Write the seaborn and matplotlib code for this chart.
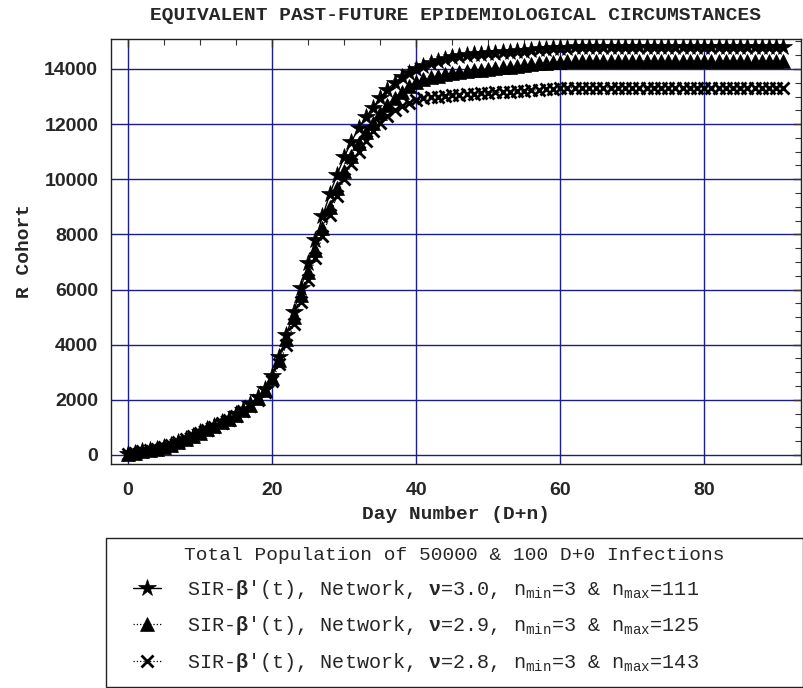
import matplotlib
matplotlib.use("Agg")
import matplotlib.pyplot as plt
from matplotlib.patches import Rectangle
from matplotlib.ticker import MultipleLocator
import seaborn as sns
import numpy as np

# day numbers D+0 .. D+91
days = list(range(92))

# R cohort, nu=3.0 (stars)
r_nu30 = [30, 80, 130, 180, 230, 290, 380, 480, 590, 700,
          820, 940, 1060, 1190, 1320, 1480, 1650, 1850, 2100, 2400,
          2850, 3550, 4350, 5200, 6050, 6950, 7800, 8650, 9450, 10150,
          10800, 11350, 11850, 12250, 12600, 12950, 13250, 13500, 13700, 13870,
          14000, 14120, 14220, 14300, 14370, 14420, 14460, 14500, 14530, 14550,
          14570, 14590, 14610, 14630, 14650, 14670, 14690, 14710, 14730, 14750,
          14765, 14775, 14780, 14785, 14788, 14790, 14790, 14790, 14790, 14790,
          14790, 14790, 14790, 14790, 14790, 14790, 14790, 14790, 14790, 14790,
          14790, 14790, 14790, 14790, 14790, 14790, 14790, 14790, 14790, 14790,
          14790, 14790]

# R cohort, nu=2.9 (triangles)
r_nu29 = [30, 80, 130, 180, 230, 290, 375, 475, 585, 695,
          810, 930, 1050, 1180, 1310, 1460, 1630, 1820, 2060, 2360,
          2780, 3450, 4200, 5000, 5800, 6650, 7450, 8250, 9000, 9700,
          10300, 10850, 11300, 11700, 12050, 12400, 12700, 12950, 13180, 13370,
          13530, 13620, 13700, 13760, 13810, 13850, 13890, 13920, 13950, 13980,
          14010, 14040, 14060, 14080, 14110, 14140, 14170, 14200, 14230, 14255,
          14270, 14280, 14285, 14290, 14290, 14290, 14290, 14290, 14290, 14290,
          14290, 14290, 14290, 14290, 14290, 14290, 14290, 14290, 14290, 14290,
          14290, 14290, 14290, 14290, 14290, 14290, 14290, 14290, 14290, 14290,
          14290, 14290]

# R cohort, nu=2.8 (crosses)
r_nu28 = [30, 80, 130, 180, 230, 285, 370, 465, 570, 680,
          790, 905, 1025, 1150, 1280, 1430, 1590, 1780, 2010, 2300,
          2700, 3300, 4000, 4750, 5550, 6350, 7150, 7950, 8700, 9400,
          10000, 10550, 11000, 11400, 11750, 12050, 12300, 12500, 12650, 12780,
          12880, 12930, 12970, 13000, 13030, 13050, 13070, 13090, 13105, 13120,
          13135, 13150, 13160, 13170, 13190, 13210, 13230, 13250, 13270, 13290,
          13305, 13315, 13320, 13320, 13320, 13320, 13320, 13320, 13320, 13320,
          13320, 13320, 13320, 13320, 13320, 13320, 13320, 13320, 13320, 13320,
          13320, 13320, 13320, 13320, 13320, 13320, 13320, 13320, 13320, 13320,
          13320, 13320]

labels = [r"SIR-$\mathbf{β}$'(t), Network, $\mathbf{ν}$=3.0, n$_{\mathrm{min}}$=3 & n$_{\mathrm{max}}$=111",
          r"SIR-$\mathbf{β}$'(t), Network, $\mathbf{ν}$=2.9, n$_{\mathrm{min}}$=3 & n$_{\mathrm{max}}$=125",
          r"SIR-$\mathbf{β}$'(t), Network, $\mathbf{ν}$=2.8, n$_{\mathrm{min}}$=3 & n$_{\mathrm{max}}$=143"]

sns.set_style("white")
plt.rcParams['font.family'] = ['Liberation Sans', 'DejaVu Sans']
plt.rcParams['mathtext.fontset'] = 'custom'
plt.rcParams['mathtext.rm'] = 'Liberation Mono'
plt.rcParams['mathtext.it'] = 'Liberation Mono:italic'
plt.rcParams['mathtext.bf'] = 'Liberation Mono:bold'

mono = ['Liberation Mono', 'DejaVu Sans Mono']

fig, ax = plt.subplots(figsize=(8.04, 6.88), dpi=100)
fig.subplots_adjust(left=0.1377, right=0.996, bottom=0.3256, top=0.9433)

# one call per series so each keeps its own marker size
series = [(r_nu30, '*', 13, '-', 1.0, 5),
          (r_nu29, '^', 10, ':', 0.9, 4),
          (r_nu28, 'x', 8.5, ':', 0.9, 3)]
for (vals, mk, ms, ls, lw, z), lab in zip(series, labels):
    sns.lineplot(x=days, y=vals, ax=ax, color='black', marker=mk, markersize=ms,
                 linestyle=ls, linewidth=lw, markeredgecolor='black',
                 markeredgewidth=2.0 if mk == 'x' else 0.5, label=lab, zorder=z)

ax.set_xlim(-2.4, 93.4)
ax.set_ylim(-326, 15087)
ax.xaxis.set_major_locator(MultipleLocator(20))
ax.xaxis.set_minor_locator(MultipleLocator(5))
ax.yaxis.set_major_locator(MultipleLocator(2000))
ax.yaxis.set_minor_locator(MultipleLocator(500))
ax.tick_params(which='both', direction='in', top=True, right=True, color='#333333')
ax.tick_params(which='major', length=6, width=1, labelsize=14, pad=9)
ax.tick_params(axis='x', which='major', pad=13)
ax.tick_params(which='minor', length=4, width=0.8)
for t in ax.get_xticklabels() + ax.get_yticklabels():
    t.set_fontweight('bold')
ax.grid(True, which='major', color='#1c1c8a', linewidth=1.0)
ax.set_axisbelow(True)
for sp in ax.spines.values():
    sp.set_color('#222222')
    sp.set_linewidth(1.0)

ax.set_title("EQUIVALENT PAST-FUTURE EPIDEMIOLOGICAL CIRCUMSTANCES",
             family=mono, fontweight='bold', fontsize=14, pad=14)
ax.set_xlabel("Day Number (D+n)", family=mono, fontweight='bold', fontsize=14, labelpad=5)
ax.set_ylabel("R Cohort", family=mono, fontweight='bold', fontsize=14, labelpad=8)

handles, labs = ax.get_legend_handles_labels()
ax.get_legend().remove()
leg = fig.legend(handles, labs, loc='upper left',
                 bbox_to_anchor=(133 / 804, 0.0, (776 - 133) / 804, 1 - 547 / 688),
                 mode='expand', frameon=False, borderaxespad=0, borderpad=0,
                 prop={'family': mono, 'size': 14.5},
                 title="Total Population of 50000 & 100 D+0 Infections",
                 title_fontproperties={'family': mono, 'size': 14},
                 handlelength=1.4, handletextpad=1.3, labelspacing=0.68)
fig.add_artist(Rectangle((106 / 804, 1 / 688), 697 / 804, 149 / 688,
                         transform=fig.transFigure, fill=False,
                         edgecolor='#222222', linewidth=1.0))

fig.savefig("out.png", dpi=100)
